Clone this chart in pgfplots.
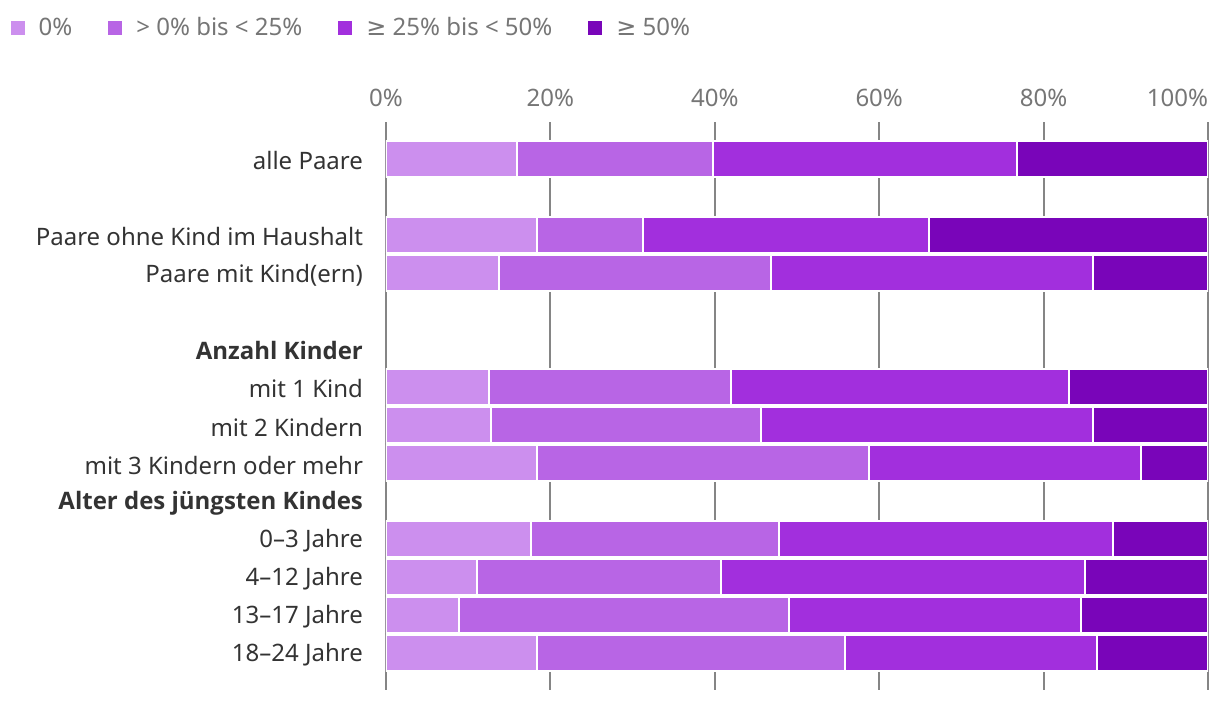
\documentclass[border=0pt]{standalone}
\usepackage{fontspec}
\setmainfont{Noto Sans}[BoldFont={Open Sans Bold}]
\newfontfamily\sym{DejaVu Sans}
\usepackage{pgfplots}
\pgfplotsset{compat=1.18}
\usepackage{pgfplotstable}

\definecolor{c0}{HTML}{CC8FEE}
\definecolor{c1}{HTML}{B865E5}
\definecolor{c2}{HTML}{A22FDD}
\definecolor{c3}{HTML}{7905B9}
\definecolor{txt}{HTML}{333333}
\definecolor{tck}{HTML}{767676}
\definecolor{grd}{HTML}{858585}

% row  0%  >0-<25  >=25-<50  >=50
\pgfplotstableread{
row a    b    c    d
0   15.9 23.9 37.0 23.2
2   18.4 12.9 34.8 33.9
3   13.7 33.1 39.2 14.0
6   12.5 29.5 41.1 16.9
7   12.8 32.8 40.4 14.0
8   18.4 40.4 33.0 8.2
10  17.6 30.2 40.6 11.6
11  11.1 29.7 44.2 15.0
12  8.9  40.1 35.5 15.5
13  18.4 37.4 30.7 13.5
}\data

\begin{document}
\begin{tikzpicture}
\useasboundingbox (-193pt,-6pt) rectangle (417pt,345pt);
\begin{axis}[
    at={(0,0)}, anchor=south west,
    scale only axis,
    width=411pt, height=284pt,
    xbar stacked,
    bar width=18pt,
    xmin=0, xmax=100,
    ymin=-0.97, ymax=13.97,
    y dir=reverse,
    axis line style={draw=none},
    major tick length=0pt,
    xtick={0,20,40,60,80,100},
    xticklabels={0\%,20\%,40\%,60\%,80\%,\makebox[0pt][r]{100\%}},
    xticklabel pos=top,
    xmajorgrids,
    grid style={grd, line width=1pt},
    ytick={0,...,13},
    yticklabels={alle Paare,,Paare ohne Kind im Haushalt,Paare mit Kind(ern),,\textbf{Anzahl Kinder},mit 1 Kind,mit 2 Kindern,mit 3 Kindern oder mehr,\textbf{Alter des jüngsten Kindes},0–3 Jahre,4–12 Jahre,13–17 Jahre,18–24 Jahre},
    x tick label style={font=\fontsize{12}{14}\selectfont, text=tck, yshift=4pt},
    y tick label style={font=\fontsize{12}{14}\selectfont, text=txt, anchor=east, xshift=-8pt, yshift=-1pt},
    every axis plot/.append style={draw=white, line width=1pt},
    legend columns=4,
    legend style={at={(axis description cs:-0.457,1.1655)}, anchor=west, draw=none,
        font=\fontsize{12}{14}\selectfont, text=tck, inner sep=0pt,
        /tikz/every odd column/.append style={column sep=5pt},
        /tikz/every even column/.append style={column sep=16pt}},
    legend image code/.code={\fill[#1, draw=none] (0pt,-3.5pt) rectangle (7pt,3.5pt);},
]
\addplot[fill=c0] table[x=a, y=row] {\data};
\addlegendentry{0\%}
\addplot[fill=c1] table[x=b, y=row] {\data};
\addlegendentry{> 0\% bis < 25\%}
\addplot[fill=c2] table[x=c, y=row] {\data};
\addlegendentry{{\sym ≥} 25\% bis < 50\%}
\addplot[fill=c3] table[x=d, y=row] {\data};
\addlegendentry{{\sym ≥} 50\%}
\end{axis}
\end{tikzpicture}
\end{document}
